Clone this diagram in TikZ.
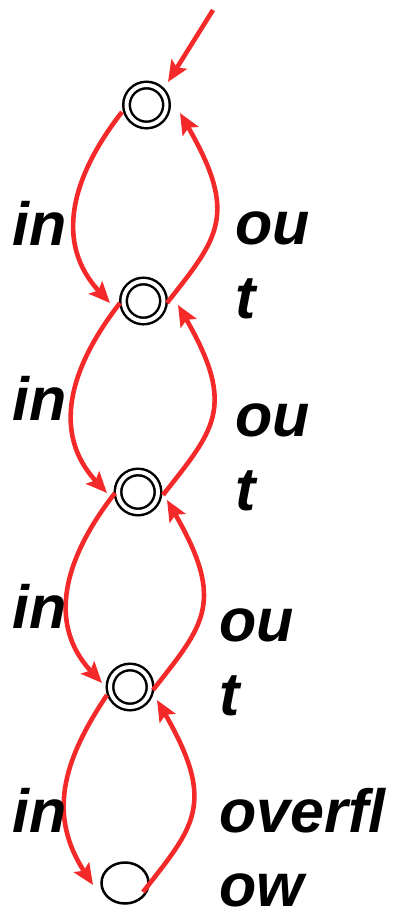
\documentclass[tikz,border=0pt]{standalone}
\usepackage{fontspec}
\setmainfont{Liberation Sans}
\usetikzlibrary{arrows.meta,shapes.geometric,calc}
\definecolor{edgered}{RGB}{244,42,42}

\begin{document}
\begin{tikzpicture}[x=1pt,y=1pt,
  stackstate/.style={circle,draw=black,line width=2.5pt,double=white,double distance=4pt,minimum size=40pt,inner sep=0pt},
  fullstate/.style={ellipse,draw=black,line width=2.5pt,minimum width=47pt,minimum height=41pt,inner sep=0pt},
  lbl/.style={anchor=base west,inner sep=0pt,align=left,text depth=0pt,font=\fontsize{61}{74}\selectfont\bfseries\itshape},
  ar/.style={-{Stealth[length=21pt,width=18pt,inset=4pt]},line width=4.6pt,edgered},
  inarc/.style={ar,out=232,in=133,looseness=1.1},
  outarc/.style={ar,out=52,in=-60,out looseness=1.1,in looseness=1.6}
]
\useasboundingbox (0,0) rectangle (396,-911);

% states, top to bottom
\node[stackstate] (s0) at (146.5,-105) {};
\node[stackstate] (s1) at (143.5,-301) {};
\node[stackstate] (s2) at (138,-492) {};
\node[stackstate] (s3) at (130,-687) {};
\node[fullstate] (s4) at (125,-883) {};
\coordinate (start) at (213,-10);

% entry
\draw[ar] (start) -- ($(s0)+(21.5,23)$);

% in: one level down
\draw[inarc] ($(s0)+(-24.5,-7)$) to ($(s1)+(-33.5,-2)$);
\draw[inarc] ($(s1)+(-23.5,-2)$) to ($(s2)+(-31,-1)$);
\draw[inarc] ($(s2)+(-23,-1)$) to ($(s3)+(-28,4)$);
\draw[inarc,out=236,in=123] ($(s3)+(-23,-8)$) to ($(s4)+(-32,-2)$);

% out: one level up
\draw[outarc] ($(s1)+(23.5,-2)$) to ($(s0)+(33.5,-8)$);
\draw[outarc] ($(s2)+(25,-3)$) to ($(s1)+(34.5,-4)$);
\draw[outarc] ($(s3)+(23,-3)$) to ($(s2)+(29,-8)$);
\draw[outarc] ($(s4)+(18,-9)$) to ($(s3)+(27,-13)$);

% labels
\node[lbl] (lin1) at (12,-245) {in};
\node[lbl] (lout1) at (235,-318) {ou\\t};
\node[lbl] (lin2) at (12,-420) {in};
\node[lbl] (lout2) at (235,-510) {ou\\t};
\node[lbl] (lin3) at (12,-628) {in};
\node[lbl] (lout3) at (219,-715) {ou\\t};
\node[lbl] (lin4) at (12,-832) {in};
\node[lbl] (lover) at (219,-906) {overfl\\ow};
\end{tikzpicture}
\end{document}
